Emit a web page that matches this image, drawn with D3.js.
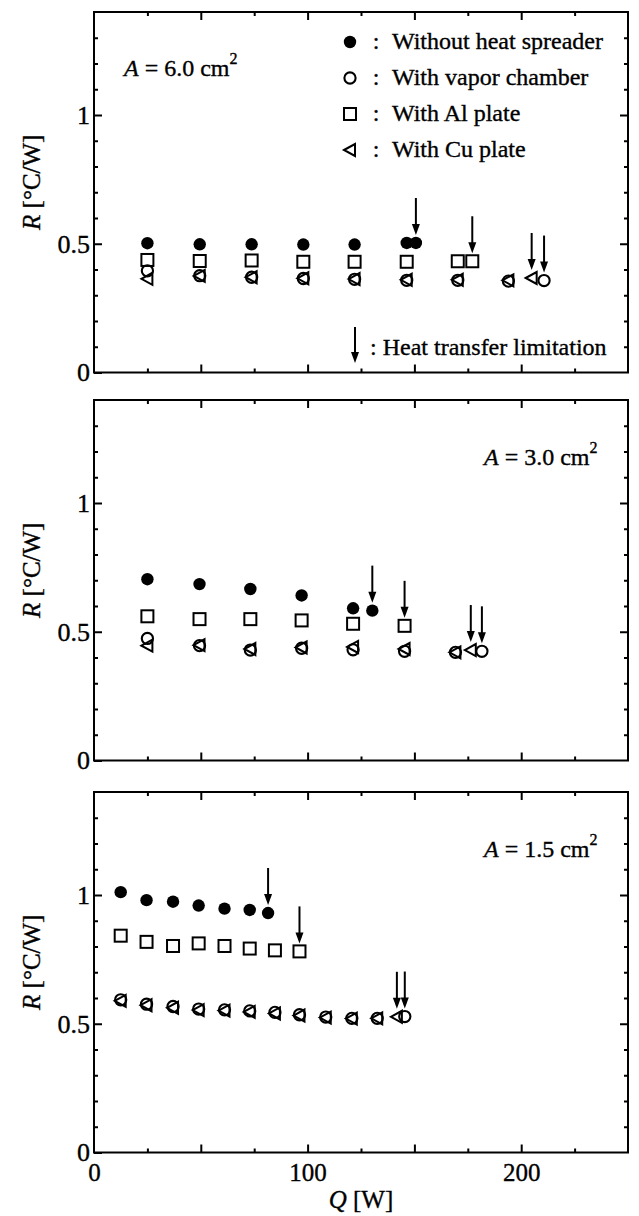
<!DOCTYPE html>
<html>
<head>
<meta charset="utf-8">
<script src="https://cdn.jsdelivr.net/npm/d3@7"></script>
<style>
  html, body { margin: 0; padding: 0; background: #fff; }
  svg { display: block; }
  text { font-family: 'Liberation Serif', 'Times New Roman', serif; fill: #000; stroke: #000; stroke-width: 0.35px; }
</style>
</head>
<body>
<svg id="chart" width="639" height="1216"></svg>
<script>
// ---------------- data ----------------
const seriesNames = ["Without heat spreader", "With vapor chamber", "With Al plate", "With Cu plate"];
const areaLabels = ["6.0", "3.0", "1.5"];
const yTickLabels = [0, 0.5, 1];
const xTickLabels = [0, 100, 200];

// A = 6.0 cm2
const q6Without = [25, 49.5, 73.8, 98, 122, 146.4, 150.7];
const r6Without = [0.502, 0.498, 0.498, 0.497, 0.497, 0.503, 0.503];
const q6Al = [25, 49.5, 73.8, 98, 122, 146.4, 170.3, 177.1];
const r6Al = [0.437, 0.433, 0.435, 0.430, 0.430, 0.430, 0.432, 0.432];
const q6Vc = [25, 49.5, 73.8, 98, 122, 146.4, 170.3, 194, 210.7];
const r6Vc = [0.395, 0.376, 0.370, 0.365, 0.362, 0.358, 0.358, 0.355, 0.357];
const q6Cu = [25, 49.5, 73.8, 98, 122, 146.4, 170.3, 194, 204.9];
const r6Cu = [0.364, 0.375, 0.370, 0.366, 0.363, 0.360, 0.360, 0.358, 0.367];

// A = 3.0 cm2
const q3Without = [25, 49.4, 73.2, 97.2, 121.3, 130.3];
const r3Without = [0.704, 0.685, 0.666, 0.641, 0.591, 0.582];
const q3Al = [25, 49.4, 73.2, 97.2, 121.3, 145.4];
const r3Al = [0.560, 0.549, 0.549, 0.544, 0.531, 0.523];
const q3Vc = [25, 49.4, 73.2, 97.2, 121.3, 145.4, 169.2, 181.6];
const r3Vc = [0.474, 0.446, 0.429, 0.436, 0.430, 0.424, 0.420, 0.424];
const q3Cu = [25, 49.4, 73.2, 97.2, 121.3, 145.4, 169.2, 176.4];
const r3Cu = [0.446, 0.448, 0.433, 0.439, 0.441, 0.433, 0.420, 0.429];

// A = 1.5 cm2
const q15Without = [12.5, 24.6, 37, 49, 61.1, 72.9, 81.5];
const r15Without = [1.011, 0.980, 0.974, 0.959, 0.947, 0.942, 0.930];
const q15Al = [12.5, 24.6, 37, 49, 61.1, 72.9, 84.7, 96.2];
const r15Al = [0.842, 0.818, 0.802, 0.812, 0.802, 0.792, 0.785, 0.781];
const q15Vc = [12.5, 24.6, 37, 49, 61.1, 72.9, 84.7, 96.2, 108.5, 120.7, 132.6, 145.5];
const r15Vc = [0.593, 0.576, 0.567, 0.557, 0.554, 0.550, 0.544, 0.535, 0.526, 0.521, 0.521, 0.528];
const q15Cu = [12.5, 24.6, 37, 49, 61.1, 72.9, 84.7, 96.2, 108.5, 120.7, 132.6, 141.8];
const r15Cu = [0.589, 0.572, 0.562, 0.553, 0.551, 0.546, 0.540, 0.532, 0.524, 0.520, 0.521, 0.527];

// heat transfer limitation points (arrows)
const q6Limit = [150.7, 177.1, 204.9, 210.7];
const r6Limit = [0.503, 0.432, 0.367, 0.357];
const q3Limit = [130.3, 145.4, 176.4, 181.6];
const r3Limit = [0.582, 0.523, 0.429, 0.424];
const q15Limit = [81.5, 96.2, 141.8, 145.5];
const r15Limit = [0.930, 0.781, 0.527, 0.528];

// ---------------- layout ----------------
const svg = d3.select("#chart");
const left = 94, right = 628;
const panelTops = [12, 400, 792];
const panelH = 360.5;
const FONT = 25;

const zip = (q, r) => q.map((v, i) => ({ q: v, r: r[i] }));

const panels = [
  { area: areaLabels[0], without: zip(q6Without, r6Without), al: zip(q6Al, r6Al), vc: zip(q6Vc, r6Vc), cu: zip(q6Cu, r6Cu), limit: zip(q6Limit, r6Limit) },
  { area: areaLabels[1], without: zip(q3Without, r3Without), al: zip(q3Al, r3Al), vc: zip(q3Vc, r3Vc), cu: zip(q3Cu, r3Cu), limit: zip(q3Limit, r3Limit) },
  { area: areaLabels[2], without: zip(q15Without, r15Without), al: zip(q15Al, r15Al), vc: zip(q15Vc, r15Vc), cu: zip(q15Cu, r15Cu), limit: zip(q15Limit, r15Limit) }
];

const x = d3.scaleLinear().domain([0, 250]).range([left, right]);

const triPath = "M-6,0 L5,-6 L5,6 Z";

function drawMarker(g, type, cx, cy) {
  if (type === "without") {
    g.append("circle").attr("cx", cx).attr("cy", cy).attr("r", 6.2).attr("fill", "#000");
  } else if (type === "vc") {
    g.append("circle").attr("cx", cx).attr("cy", cy).attr("r", 5.6)
      .attr("fill", "none").attr("stroke", "#000").attr("stroke-width", 2.1);
  } else if (type === "al") {
    g.append("rect").attr("x", cx - 6).attr("y", cy - 6).attr("width", 12).attr("height", 12)
      .attr("fill", "none").attr("stroke", "#000").attr("stroke-width", 2);
  } else if (type === "cu") {
    g.append("path").attr("d", triPath).attr("transform", `translate(${cx},${cy})`)
      .attr("fill", "none").attr("stroke", "#000").attr("stroke-width", 2).attr("stroke-linejoin", "miter");
  }
}

function drawArrow(g, ax, tipY, len) {
  g.append("line").attr("x1", ax).attr("x2", ax).attr("y1", tipY - len).attr("y2", tipY - 8)
    .attr("stroke", "#000").attr("stroke-width", 2);
  g.append("path").attr("d", `M${ax - 4},${tipY - 11} L${ax + 4},${tipY - 11} L${ax},${tipY} Z`)
    .attr("fill", "#000");
}

panels.forEach((p, i) => {
  const top = panelTops[i];
  const bottom = top + panelH;
  const y = d3.scaleLinear().domain([0, 1.4]).range([bottom, top]);
  const g = svg.append("g");

  const yMinor = d3.range(0, 14).map(d => d / 10).filter(d => Math.abs(d * 2 - Math.round(d * 2)) > 1e-6);
  const xMinor = [25, 75, 125, 175, 225];
  const xMajor = [50, 100, 150, 200];

  const axes = [
    g.append("g").attr("transform", `translate(${left},0)`).call(d3.axisLeft(y).tickValues(yMinor).tickSize(-4).tickFormat("")),
    g.append("g").attr("transform", `translate(${right},0)`).call(d3.axisRight(y).tickValues(yMinor).tickSize(-4).tickFormat("")),
    g.append("g").attr("transform", `translate(${right},0)`).call(d3.axisRight(y).tickValues([0.5, 1]).tickSize(-8).tickFormat("")),
    g.append("g").attr("transform", `translate(0,${bottom})`).call(d3.axisBottom(x).tickValues(xMinor).tickSize(-4).tickFormat("")),
    g.append("g").attr("transform", `translate(0,${bottom})`).call(d3.axisBottom(x).tickValues(xMajor).tickSize(-8).tickFormat("")),
    g.append("g").attr("transform", `translate(0,${top})`).call(d3.axisTop(x).tickValues(xMinor).tickSize(-4).tickFormat("")),
    g.append("g").attr("transform", `translate(0,${top})`).call(d3.axisTop(x).tickValues(xMajor).tickSize(-8).tickFormat(""))
  ];
  const yMajorAxis = g.append("g").attr("transform", `translate(${left},0)`)
    .call(d3.axisLeft(y).tickValues(yTickLabels).tickSize(-8).tickPadding(4).tickFormat(d3.format("")));
  axes.push(yMajorAxis);
  axes.forEach(a => {
    a.select(".domain").remove();
    a.selectAll("line").attr("stroke", "#000").attr("stroke-width", 2);
  });
  yMajorAxis.selectAll("text").attr("font-size", 26).attr("font-family", "'Liberation Serif', serif").attr("fill", "#000");

  if (i === 2) {
    const xl = g.append("g").attr("transform", `translate(0,${bottom})`)
      .call(d3.axisBottom(x).tickValues(xTickLabels).tickSize(0).tickPadding(11).tickFormat(d3.format("")));
    xl.select(".domain").remove();
    xl.selectAll("text").attr("font-size", FONT).attr("font-family", "'Liberation Serif', serif").attr("fill", "#000");
  }

  // frame
  g.append("rect").attr("x", left).attr("y", top).attr("width", right - left).attr("height", bottom - top)
    .attr("fill", "none").attr("stroke", "#000").attr("stroke-width", 2);

  // y label
  const yl = g.append("text")
    .attr("transform", `translate(40,${(top + bottom) / 2 - 10}) rotate(-90)`)
    .attr("text-anchor", "middle").attr("font-size", FONT);
  yl.append("tspan").attr("font-style", "italic").text("R");
  yl.append("tspan").text(" [°C/W]");

  // data markers
  const mg = g.append("g");
  p.al.forEach(d => drawMarker(mg, "al", x(d.q), y(d.r)));
  p.vc.forEach(d => drawMarker(mg, "vc", x(d.q), y(d.r)));
  p.cu.forEach(d => drawMarker(mg, "cu", x(d.q), y(d.r)));
  p.without.forEach(d => drawMarker(mg, "without", x(d.q), y(d.r)));

  // limitation arrows
  p.limit.forEach(d => drawArrow(g, x(d.q), y(d.r) - 8, 37));

  // area annotation
  const at = g.append("text").attr("font-size", 24);
  if (i === 0) {
    at.attr("x", 124).attr("y", top + 64);
  } else {
    at.attr("x", 484).attr("y", top + 65);
  }
  at.append("tspan").attr("font-style", "italic").text("A");
  at.append("tspan").text(` = ${p.area} cm`);
  at.append("tspan").attr("font-size", 16).attr("dy", -12).text("2");
});

// legend (top panel)
const lg = svg.append("g");
const legendTypes = ["without", "vc", "al", "cu"];
legendTypes.forEach((t, k) => {
  const cy = 42 + k * 36;
  drawMarker(lg, t, 350, cy);
  lg.append("text").attr("x", 376).attr("y", cy + 7).attr("text-anchor", "middle").attr("font-size", 24).text(":");
  lg.append("text").attr("x", 392).attr("y", cy + 7).attr("font-size", 24).text(seriesNames[k]);
});
drawArrow(lg, 355, 363, 36);
lg.append("text").attr("x", 370).attr("y", 355).attr("font-size", 24).text(": Heat transfer limitation");

// x label
const xlab = svg.append("text").attr("x", (left + right) / 2).attr("y", 1208)
  .attr("text-anchor", "middle").attr("font-size", FONT);
xlab.append("tspan").attr("font-style", "italic").text("Q");
xlab.append("tspan").text(" [W]");
</script>
</body>
</html>
